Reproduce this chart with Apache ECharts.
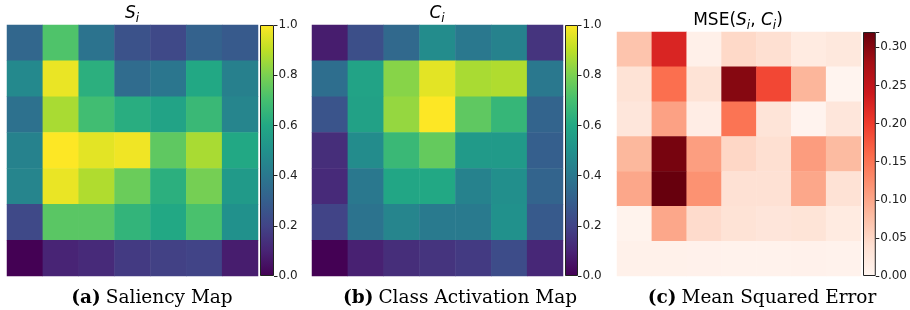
<!DOCTYPE html>
<html>
<head>
  <meta charset="utf-8">
  <title>Saliency vs CAM</title>
  <script src="https://cdn.jsdelivr.net/npm/echarts@6/dist/echarts.min.js"></script>
  <style>
    html, body { margin: 0; padding: 0; background: #fff; }
    #chart { width: 910px; height: 310px; }
  </style>
</head>
<body>
  <div id="chart"></div>
  <script>
    // 7x7 maps, row 0 = top row
    var saliency = [
      [0.33, 0.72, 0.38, 0.25, 0.22, 0.31, 0.28],
      [0.47, 0.97, 0.63, 0.35, 0.39, 0.60, 0.43],
      [0.37, 0.87, 0.69, 0.62, 0.58, 0.67, 0.45],
      [0.44, 1.00, 0.96, 0.98, 0.75, 0.87, 0.60],
      [0.45, 0.97, 0.88, 0.77, 0.63, 0.79, 0.54],
      [0.22, 0.74, 0.74, 0.65, 0.60, 0.71, 0.50],
      [0.00, 0.10, 0.12, 0.17, 0.19, 0.20, 0.08]
    ];
    var cam = [
      [0.08, 0.24, 0.34, 0.48, 0.40, 0.44, 0.15],
      [0.36, 0.58, 0.82, 0.96, 0.87, 0.88, 0.40],
      [0.26, 0.57, 0.84, 1.00, 0.75, 0.66, 0.32],
      [0.13, 0.48, 0.67, 0.76, 0.54, 0.54, 0.30],
      [0.12, 0.40, 0.59, 0.60, 0.44, 0.49, 0.32],
      [0.20, 0.38, 0.45, 0.41, 0.41, 0.50, 0.28],
      [0.00, 0.09, 0.13, 0.15, 0.17, 0.23, 0.11]
    ];
    var mse = [
      [0.070, 0.225, 0.010, 0.048, 0.040, 0.020, 0.025],
      [0.035, 0.155, 0.035, 0.300, 0.190, 0.085, 0.002],
      [0.028, 0.105, 0.015, 0.150, 0.032, 0.003, 0.028],
      [0.083, 0.310, 0.108, 0.050, 0.040, 0.110, 0.080],
      [0.100, 0.320, 0.120, 0.038, 0.038, 0.100, 0.036],
      [0.004, 0.100, 0.045, 0.035, 0.030, 0.033, 0.020],
      [0.008, 0.008, 0.007, 0.005, 0.005, 0.007, 0.006]
    ];
    var unitTicks = [0, 0.2, 0.4, 0.6, 0.8, 1.0];
    var mseTicks = [0, 0.05, 0.10, 0.15, 0.20, 0.25, 0.30];
    var mseMax = 0.32;

    var viridis = ['#440154', '#482475', '#414487', '#355f8d', '#2a788e', '#21918c',
                   '#22a884', '#44bf70', '#7ad151', '#bddf26', '#fde725'];
    var reds = ['#fff5f0', '#fee0d2', '#fcbba1', '#fc9272', '#fb6a4a', '#ef3b2c',
                '#cb181d', '#a50f15', '#67000d'];

    var cells = ['0', '1', '2', '3', '4', '5', '6'];

    function toCells(m) {
      var out = [];
      m.forEach(function (row, r) {
        row.forEach(function (v, c) { out.push([c, r, v]); });
      });
      return out;
    }

    function gradient(list) {
      return {
        type: 'linear', x: 0, y: 1, x2: 0, y2: 0,
        colorStops: list.map(function (c, i) { return { offset: i / (list.length - 1), color: c }; })
      };
    }

    // panel layout: heatmap box + colorbar box
    var panels = [
      { map: saliency, max: 1, colors: viridis, ticks: unitTicks, digits: 1,
        hm: { left: 7, top: 25, width: 251, height: 251 },
        cb: { left: 260, top: 25, width: 14, height: 251 } },
      { map: cam, max: 1, colors: viridis, ticks: unitTicks, digits: 1,
        hm: { left: 312, top: 25, width: 251, height: 251 },
        cb: { left: 565, top: 25, width: 13, height: 251 } },
      { map: mse, max: mseMax, colors: reds, ticks: mseTicks, digits: 2,
        hm: { left: 617, top: 32, width: 244, height: 244 },
        cb: { left: 863, top: 32, width: 14, height: 244 } }
    ];

    var grid = [], xAxis = [], yAxis = [], series = [], visualMap = [];
    panels.forEach(function (p, k) {
      var g = grid.length;
      grid.push(p.hm);
      xAxis.push({ gridIndex: g, type: 'category', data: cells, show: false });
      yAxis.push({ gridIndex: g, type: 'category', data: cells, inverse: true, show: false });
      series.push({
        type: 'heatmap', xAxisIndex: g, yAxisIndex: g,
        data: toCells(p.map),
        itemStyle: { borderWidth: 0 },
        emphasis: { disabled: true }
      });
      visualMap.push({
        type: 'continuous', show: false, seriesIndex: series.length - 1,
        dimension: 2, min: 0, max: p.max, inRange: { color: p.colors }
      });

      // colorbar
      grid.push(p.cb);
      xAxis.push({ gridIndex: g + 1, type: 'category', data: ['cb'], show: false });
      yAxis.push({
        gridIndex: g + 1, type: 'value', position: 'right', min: 0, max: p.max,
        interval: p.digits === 1 ? 0.2 : 0.05,
        splitLine: { show: false },
        axisLine: { show: false },
        axisTick: { show: true, length: 3.5, lineStyle: { color: '#222', width: 1 } },
        axisLabel: {
          margin: 4.5, color: '#222', fontSize: 12, fontFamily: 'DejaVu Sans',
          formatter: function (v) {
            var hit = p.ticks.some(function (t) { return Math.abs(t - v) < 1e-6; });
            return hit ? v.toFixed(p.digits) : '';
          }
        }
      });
      series.push({
        type: 'bar', xAxisIndex: g + 1, yAxisIndex: g + 1,
        data: [p.max], barWidth: '100%', silent: true,
        itemStyle: { color: gradient(p.colors), borderColor: '#222', borderWidth: 1 }
      });
    });

    var sub = { fontSize: 12, fontFamily: 'DejaVu Sans', fontStyle: 'italic', fontWeight: 'normal', color: '#000', verticalAlign: 'bottom', lineHeight: 12 };
    var it = { fontSize: 17, fontFamily: 'DejaVu Sans', fontStyle: 'italic', fontWeight: 'normal', color: '#000', lineHeight: 22 };
    var rm = { fontSize: 17, fontFamily: 'DejaVu Sans', fontWeight: 'normal', color: '#000', lineHeight: 22 };
    var bold = { fontSize: 18.5, fontFamily: 'DejaVu Serif', fontWeight: 'bold', color: '#000' };
    var serif = { fontSize: 18.5, fontFamily: 'DejaVu Serif', fontWeight: 'normal', color: '#000' };
    var titleRich = { it: it, sub: sub, rm: rm };
    var capRich = { b: bold, n: serif };

    function label(text, x, y, rich) {
      return { text: text, left: x, top: y, padding: 0, textAlign: 'center',
               textStyle: { fontWeight: 'normal', rich: rich } };
    }

    var title = [
      label('{it|S}{sub|i}', 132, 3, titleRich),
      label('{it|C}{sub|i}', 437, 3, titleRich),
      label('{rm|MSE(}{it|S}{sub|i}{rm|, }{it|C}{sub|i}{rm|)}', 738, 10, titleRich),
      label('{b|(a)} {n|Saliency Map}', 152, 289, capRich),
      label('{b|(b)} {n|Class Activation Map}', 460, 289, capRich),
      label('{b|(c)} {n|Mean Squared Error}', 762, 289, capRich)
    ];

    var chart = echarts.init(document.getElementById('chart'));
    chart.setOption({
      animation: false,
      backgroundColor: '#fff',
      title: title,
      grid: grid,
      xAxis: xAxis,
      yAxis: yAxis,
      visualMap: visualMap,
      series: series
    });
  </script>
</body>
</html>
